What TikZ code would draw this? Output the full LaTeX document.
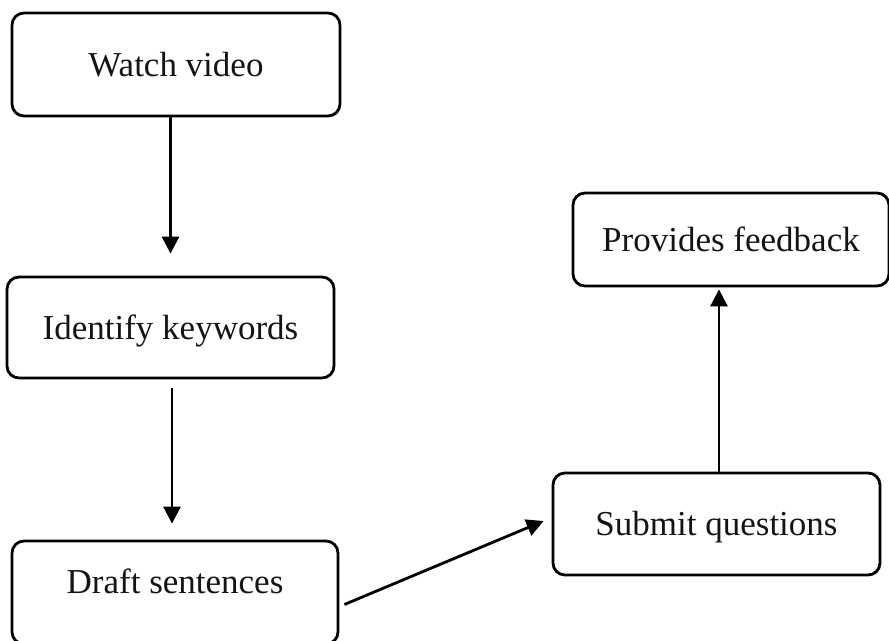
\documentclass[tikz,border=0pt]{standalone}
\usepackage{fontspec}
\setmainfont{Liberation Serif}
\usetikzlibrary{arrows.meta,calc}
\begin{document}
\begin{tikzpicture}[x=1pt,y=1pt,
  box/.style={draw=black,line width=2.8pt,rounded corners=12pt,rectangle,inner sep=0pt,
    font=\fontsize{35}{42}\selectfont,text=black!92,text height=23pt,text depth=0pt},
  arr/.style={line width=2.8pt,-{Triangle[length=17pt,width=17pt]}}]
\useasboundingbox (0,0) rectangle (889,-640);
\node[box,minimum width=328pt,minimum height=103pt] (w) at (176,-64.5) {Watch video};
\node[box,minimum width=327pt,minimum height=101pt] (i) at (170.5,-327.5) {Identify keywords};
\node[box,minimum width=326pt,minimum height=103pt,text depth=21pt] (d) at (175,-592.5) {Draft sentences};
\node[box,minimum width=327pt,minimum height=102pt] (s) at (716.5,-524) {Submit questions};
\node[box,minimum width=316pt,minimum height=93pt] (f) at (731,-239.5) {Provides feedback};
\draw[arr,shorten >=22pt] (w.south -| i.north) -- (i.north);
\draw[arr,shorten <=9pt,shorten >=16pt] ([xshift=1.5pt]i.south) -- ([xshift=1.5pt]i.south |- d.north);
\coordinate (a1) at ([xshift=5pt,yshift=-12pt]d.east);
\coordinate (a2) at ([xshift=-8pt,yshift=3pt]s.west);
\draw[arr] (a1) -- (a2);
\draw[arr,shorten >=2pt] ([xshift=2.5pt]s.north) -- ([xshift=2.5pt]s.north |- f.south);
\end{tikzpicture}
\end{document}
